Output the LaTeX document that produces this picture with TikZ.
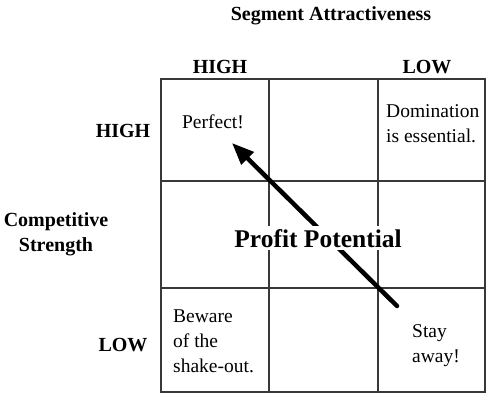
\documentclass[tikz,border=0pt]{standalone}
\usepackage{fontspec}
\setmainfont{Liberation Serif}
\usetikzlibrary{arrows.meta}
\tikzset{
  gridline/.style={draw=black!78, line width=1.4pt},
  lbl/.style={font=\fontsize{20}{25}\selectfont\bfseries, inner sep=0pt},
  celltext/.style={font=\fontsize{19.5}{24.5}\selectfont, inner sep=0pt, align=left},
  bigarrow/.style={line width=4.5pt, line cap=round, -{Triangle[length=22pt,width=17pt]}},
}
\begin{document}
\begin{tikzpicture}[x=1pt,y=-1pt]
\useasboundingbox (0,0) rectangle (489,400);
% grid
\coordinate (tl) at (161,79);
\coordinate (br) at (485,392);
\draw[gridline] (tl) rectangle (br);
\draw[gridline] (269,79) -- (269,392);
\draw[gridline] (378,79) -- (378,392);
\draw[gridline] (161,181) -- (485,181);
\draw[gridline] (161,288) -- (485,288);
% arrow
\coordinate (astart) at (397,306);
\coordinate (aend) at (232,143);
\draw[bigarrow] (astart) -- (aend);
% center label
\node[font=\fontsize{25.5}{30}\selectfont\bfseries, fill=white, inner xsep=1pt, inner ysep=3pt, anchor=base] (pp) at (318,247) {Profit Potential};
% axis labels
\node[lbl, anchor=base] (seg) at (331,20) {Segment Attractiveness};
\node[lbl, anchor=base] (hightop) at (220,73) {HIGH};
\node[lbl, anchor=base] (lowtop) at (427,73) {LOW};
\node[lbl, anchor=base] (highleft) at (123,137) {HIGH};
\node[lbl, anchor=base] (lowleft) at (123,351) {LOW};
\node[lbl, anchor=base, align=center] (comp) at (56,251) {Competitive\\Strength};
% cell texts
\node[celltext, anchor=base] (perfect) at (213,128) {Perfect!};
\node[celltext, anchor=base west] (dom) at (386,142) {Domination\\is essential.};
\node[celltext, anchor=base west, font=\fontsize{19.5}{25}\selectfont] (beware) at (173,372) {Beware\\of the\\shake-out.};
\node[celltext, anchor=base west, font=\fontsize{19.5}{25}\selectfont] (stay) at (412,362) {Stay\\away!};
\end{tikzpicture}
\end{document}
